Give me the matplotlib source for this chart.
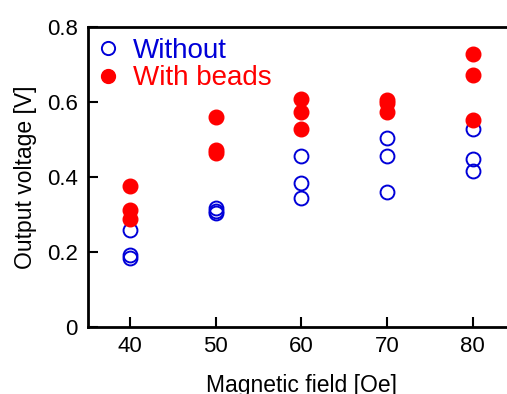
import numpy as np
import matplotlib.pyplot as plt

plt.rcParams['font.family'] = ['Liberation Sans', 'DejaVu Sans']

field = [40, 50, 60, 70, 80]
without = [
    [0.257, 0.191, 0.184],
    [0.316, 0.303, 0.310],
    [0.456, 0.384, 0.344],
    [0.504, 0.456, 0.360],
    [0.527, 0.448, 0.415],
]
with_beads = [
    [0.376, 0.312, 0.288],
    [0.559, 0.472, 0.463],
    [0.607, 0.574, 0.527],
    [0.605, 0.596, 0.574],
    [0.727, 0.671, 0.551],
]

blue = '#0000d8'
red = '#ff0000'

fig = plt.figure(figsize=(5.07, 3.94), dpi=100)
ax = fig.add_axes([0.1726, 0.1708, 0.844, 0.7607])

# flatten groups to x/y pairs
xw = np.repeat(field, [len(v) for v in without])
yw = np.concatenate(without)
xb = np.repeat(field, [len(v) for v in with_beads])
yb = np.concatenate(with_beads)

ax.plot(xw, yw, 'o', ls='none', ms=10, mfc='none', mec=blue, mew=1.4,
        label='Without', clip_on=False)
ax.plot(xb, yb, 'o', ls='none', ms=10.5, mfc=red, mec=red,
        label='With beads', clip_on=False)

ax.set_xlim(35, 85)
ax.set_ylim(0, 0.8)
ax.set_xticks(field)
ax.set_yticks([0, 0.2, 0.4, 0.6, 0.8])
ax.set_yticklabels(['0', '0.2', '0.4', '0.6', '0.8'])
ax.tick_params(direction='in', length=7, width=1.5, labelsize=16, pad=7)
for s in ax.spines.values():
    s.set_linewidth(2)

ax.set_xlabel('Magnetic field [Oe]', fontsize=16.5, labelpad=12)
ax.set_ylabel('Output voltage [V]', fontsize=16.5, labelpad=7)

leg = ax.legend(loc='upper left', frameon=False, fontsize=20, handletextpad=0.55,
                borderaxespad=0.1, borderpad=0.3, labelspacing=0.05,
                markerscale=0.95, handlelength=0.7)
for txt, c in zip(leg.get_texts(), [blue, red]):
    txt.set_color(c)

plt.savefig('out.png', dpi=100)
plt.close()
